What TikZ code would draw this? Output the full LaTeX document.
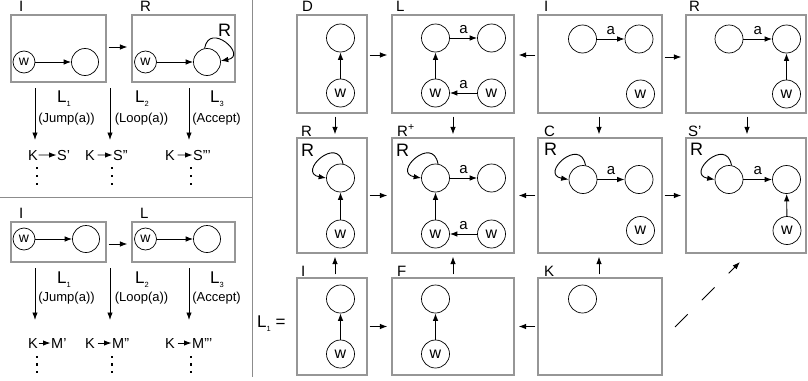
\documentclass[tikz,border=0pt]{standalone}
\usepackage{fontspec}
\setmainfont{Liberation Sans}
\usetikzlibrary{arrows.meta}
\definecolor{boxgray}{RGB}{150,150,150}
\definecolor{sepgray}{RGB}{140,140,140}
\newcommand{\mysub}[1]{\raisebox{-4pt}{\fontsize{7.5}{7.5}\selectfont #1}}
\newcommand{\fs}[1]{\fontsize{#1}{#1}\selectfont}
\begin{document}
\begin{tikzpicture}[x=1pt,y=1pt,
  arr/.style={-{Latex[length=7.5pt,width=5.5pt]}, line width=0.9pt},
  sepline/.style={draw=sepgray, line width=1pt},
  frame/.style={draw=boxgray, line width=1.2pt, inner sep=0pt, rectangle},
  ec/.style={circle, draw, line width=0.7pt, minimum size=28pt, inner sep=0pt},
  wc/.style={ec, font=\fs{16}},
  sec/.style={ec, minimum size=27pt},
  swc/.style={ec, minimum size=22pt, font=\fs{14}},
  lab/.style={anchor=base west, font=\fs{15}, inner sep=0pt},
  llab/.style={anchor=base west, font=\fs{17}, inner sep=0pt},
  plab/.style={anchor=base, font=\fs{13}, inner sep=0pt},
  klab/.style={anchor=base west, font=\fs{14.5}, inner sep=0.5pt},
  rlab/.style={anchor=base west, font=\fs{18}, inner sep=0pt},
  alab/.style={font=\fs{15}, inner sep=1pt},
  dotm/.style={fill, inner sep=0pt, minimum size=2.6pt, rectangle},
  gap/.style={shorten <=2pt, shorten >=4pt}
]
\useasboundingbox (0,0) rectangle (808,-380);

% ---------------- separators
\coordinate (vs1) at (252.5,0); \coordinate (vs2) at (252.5,-377);
\draw[sepline] (vs1) -- (vs2);
\coordinate (hs1) at (0,-197); \coordinate (hs2) at (252.5,-197);
\draw[sepline] (hs1) -- (hs2);

% ---------------- top-left panel
\node[frame, minimum width=95pt, minimum height=67pt] (ta) at (58.5,-48.5) {};
\node[frame, minimum width=103pt, minimum height=67pt] (tb) at (183.5,-48.5) {};
\node[lab] (tlA) at (19,-12) {I};
\node[lab] (tlB) at (140,-12) {R};
\node[swc] (tw1) at (24,-62) {w};
\node[sec] (te1) at (85,-62) {};
\draw[arr] (tw1) -- (te1);
\node[swc] (tw2) at (145.5,-62) {w};
\node[sec] (te2) at (207,-62) {};
\draw[arr] (tw2) -- (te2);
\draw[arr] (te2.100) .. controls +(80:28) and +(10:28) .. (te2.5);
\node[rlab] (tR) at (218,-36) {R};
\draw[arr, gap] ([yshift=1.5pt]ta.east) -- ([yshift=1.5pt]tb.west);

\coordinate (td1s) at (35,-88);  \coordinate (td1e) at (35,-140);
\coordinate (td2s) at (110,-88); \coordinate (td2e) at (110,-140);
\coordinate (td3s) at (189,-88); \coordinate (td3e) at (189,-140);
\draw[arr] (td1s) -- (td1e);
\draw[arr] (td2s) -- (td2e);
\draw[arr] (td3s) -- (td3e);
\node[llab] (tL1) at (57,-102) {L\mysub{1}};
\node[llab] (tL2) at (135,-102) {L\mysub{2}};
\node[llab] (tL3) at (210,-102) {L\mysub{3}};
\node[plab] (tP1) at (66.5,-122) {(Jump(a))};
\node[plab] (tP2) at (141.5,-122) {(Loop(a))};
\node[plab] (tP3) at (216.5,-122) {(Accept)};

\node[klab] (tK1) at (27.5,-160) {K};
\node[klab] (tS1) at (56.5,-160) {S'};
\draw[arr] (tK1) -- (tS1);
\node[klab] (tK2) at (84.5,-160) {K};
\node[klab] (tS2) at (112.5,-160) {S''};
\draw[arr, shorten <=2pt] (tK2) -- (tS2);
\node[klab] (tK3) at (164.5,-160) {K};
\node[klab] (tS3) at (192.5,-160) {S'''};
\draw[arr, shorten <=2pt] (tK3) -- (tS3);
\foreach \x/\n in {37/a,112/b,191/c}{
  \node[dotm] (tdot\n1) at (\x,-168) {};
  \node[dotm] (tdot\n2) at (\x,-176) {};
  \node[dotm] (tdot\n3) at (\x,-184) {};
}

% ---------------- bottom-left panel
\node[frame, minimum width=95pt, minimum height=40pt] (ba) at (58.5,-242) {};
\node[frame, minimum width=103pt, minimum height=40pt] (bb) at (183.5,-242) {};
\node[lab] (blA) at (19,-218) {I};
\node[lab] (blB) at (140,-218) {L};
\node[swc] (bw1) at (24,-239) {w};
\node[sec] (be1) at (86,-239) {};
\draw[arr] (bw1) -- (be1);
\node[swc] (bw2) at (145.5,-239) {w};
\node[sec] (be2) at (207,-239) {};
\draw[arr] (bw2) -- (be2);
\draw[arr, gap] ([yshift=-2pt]ba.east) -- ([yshift=-2pt]bb.west);

\coordinate (bd1s) at (35,-268);  \coordinate (bd1e) at (35,-320);
\coordinate (bd2s) at (110,-268); \coordinate (bd2e) at (110,-320);
\coordinate (bd3s) at (189,-268); \coordinate (bd3e) at (189,-320);
\draw[arr] (bd1s) -- (bd1e);
\draw[arr] (bd2s) -- (bd2e);
\draw[arr] (bd3s) -- (bd3e);
\node[llab] (bL1) at (57,-283) {L\mysub{1}};
\node[llab] (bL2) at (135,-283) {L\mysub{2}};
\node[llab] (bL3) at (210,-283) {L\mysub{3}};
\node[plab] (bP1) at (66.5,-301) {(Jump(a))};
\node[plab] (bP2) at (141.5,-301) {(Loop(a))};
\node[plab] (bP3) at (216.5,-301) {(Accept)};

\node[klab] (bK1) at (27.5,-348) {K};
\node[klab] (bM1) at (50.5,-348) {M'};
\draw[arr] (bK1) -- (bM1);
\node[klab] (bK2) at (84.5,-348) {K};
\node[klab] (bM2) at (111.5,-348) {M''};
\draw[arr, shorten <=2pt] (bK2) -- (bM2);
\node[klab] (bK3) at (164.5,-348) {K};
\node[klab] (bM3) at (191.5,-348) {M'''};
\draw[arr, shorten <=2pt] (bK3) -- (bM3);
\foreach \x/\n in {37/a,112/b,191/c}{
  \node[dotm] (bdot\n1) at (\x,-357) {};
  \node[dotm] (bdot\n2) at (\x,-364.5) {};
  \node[dotm] (bdot\n3) at (\x,-372) {};
}

% ---------------- L1 =
\node[llab] (Leq) at (257,-327) {L\mysub{1} =};

% ---------------- right panel boxes
\node[frame, minimum width=70pt,  minimum height=98pt]  (b11) at (332,-64) {};
\node[frame, minimum width=122pt, minimum height=98pt]  (b12) at (453,-64) {};
\node[frame, minimum width=124pt, minimum height=98pt]  (b13) at (600,-64) {};
\node[frame, minimum width=120pt, minimum height=98pt]  (b14) at (746,-64) {};
\node[frame, minimum width=70pt,  minimum height=115pt] (b21) at (332,-195.5) {};
\node[frame, minimum width=122pt, minimum height=115pt] (b22) at (453,-195.5) {};
\node[frame, minimum width=124pt, minimum height=115pt] (b23) at (600,-195.5) {};
\node[frame, minimum width=120pt, minimum height=115pt] (b24) at (746,-195.5) {};
\node[frame, minimum width=70pt,  minimum height=97pt]  (b31) at (332,-326.5) {};
\node[frame, minimum width=122pt, minimum height=97pt]  (b32) at (453,-326.5) {};
\node[frame, minimum width=124pt, minimum height=97pt]  (b33) at (600,-326.5) {};

% box labels
\node[lab] (l11) at (302,-11.5) {D};
\node[lab] (l12) at (396,-11.5) {L};
\node[lab] (l13) at (544,-11.5) {I};
\node[lab] (l14) at (689,-11.5) {R};
\node[lab] (l21) at (301,-136) {R};
\node[lab] (l22) at (397,-136) {R\textsuperscript{+}};
\node[lab] (l23) at (544,-136) {C};
\node[lab] (l24) at (688,-136) {S'};
\node[lab] (l31) at (301,-276) {I};
\node[lab] (l32) at (397,-276) {F};
\node[lab] (l33) at (544,-276) {K};

% arrows between boxes
\draw[arr, gap] ([yshift=9pt]b11.east) -- ([yshift=9pt]b12.west);
\draw[arr, gap] ([yshift=9pt]b13.west) -- ([yshift=9pt]b12.east);
\draw[arr, gap] ([yshift=7pt]b13.east) -- ([yshift=7pt]b14.west);
\draw[arr, gap] (b21.east) -- (b22.west);
\draw[arr, gap] (b23.west) -- (b22.east);
\draw[arr, gap] (b23.east) -- (b24.west);
\draw[arr, gap] (b31.east) -- (b32.west);
\draw[arr, gap] (b33.west) -- (b32.east);
\draw[arr, shorten <=3pt, shorten >=3pt] ([xshift=3pt]b11.south) -- ([xshift=3pt]b21.north);
\draw[arr, shorten <=3pt, shorten >=3pt] (b12.south) -- (b22.north);
\draw[arr, shorten <=3pt, shorten >=3pt] ([xshift=-1pt]b13.south) -- ([xshift=-1pt]b23.north);
\draw[arr, shorten <=3pt, shorten >=3pt] ([xshift=1pt]b14.south) -- ([xshift=1pt]b24.north);
\draw[arr, shorten <=3pt, shorten >=3pt] ([xshift=3pt]b31.north) -- ([xshift=3pt]b21.south);
\draw[arr, shorten <=3pt, shorten >=3pt] (b32.north) -- (b22.south);
\draw[arr, shorten <=3pt, shorten >=3pt] ([xshift=-1pt]b33.north) -- ([xshift=-1pt]b23.south);
\coordinate (dd1) at (675,-327); \coordinate (dd2) at (740,-262);
\draw[arr, dash pattern=on 18pt off 20pt] (dd1) -- (dd2);

% ---- row 1 contents
\node[ec] (e11) at (340.5,-38) {};
\node[wc] (w11) at (340.5,-93) {w};
\draw[arr] (w11) -- (e11);

\node[ec] (e12a) at (435.5,-38) {};
\node[ec] (e12b) at (491.5,-38) {};
\node[wc] (w12a) at (435.5,-93) {w};
\node[wc] (w12b) at (491.5,-93) {w};
\draw[arr] (e12a) -- node[alab, above=3pt] (a12a) {a} (e12b);
\draw[arr] (w12a) -- (e12a);
\draw[arr] (w12b) -- node[alab, above=3pt] (a12b) {a} (w12a);

\node[ec] (e13a) at (582.5,-39) {};
\node[ec] (e13b) at (639,-39) {};
\node[wc] (w13) at (640.5,-94) {w};
\draw[arr] (e13a) -- node[alab, above=3pt] (a13) {a} (e13b);

\node[ec] (e14a) at (729,-39) {};
\node[ec] (e14b) at (786.5,-39) {};
\node[wc] (w14) at (786.5,-94) {w};
\draw[arr] (e14a) -- node[alab, above=3pt] (a14) {a} (e14b);
\draw[arr] (w14) -- (e14b);

% ---- row 2 contents
\node[rlab] (R21) at (301,-156) {R};
\node[ec] (e21) at (340.5,-178) {};
\node[wc] (w21) at (340.5,-234) {w};
\draw[arr] (w21) -- (e21);
\draw[arr] (e21.80) .. controls +(100:30) and +(170:30) .. (e21.180);

\node[rlab] (R22) at (396,-156) {R};
\node[ec] (e22a) at (435.5,-178) {};
\node[ec] (e22b) at (491.5,-178) {};
\node[wc] (w22a) at (435.5,-234) {w};
\node[wc] (w22b) at (491.5,-234) {w};
\draw[arr] (e22a.80) .. controls +(100:30) and +(170:30) .. (e22a.180);
\draw[arr] (e22a) -- node[alab, above=3pt] (a22a) {a} (e22b);
\draw[arr] (w22a) -- (e22a);
\draw[arr] (w22b) -- node[alab, above=3pt] (a22b) {a} (w22a);

\node[rlab] (R23) at (544,-155) {R};
\node[ec] (e23a) at (583,-179.5) {};
\node[ec] (e23b) at (639,-179.5) {};
\node[wc] (w23) at (640.5,-230.5) {w};
\draw[arr] (e23a.80) .. controls +(100:30) and +(170:30) .. (e23a.180);
\draw[arr] (e23a) -- node[alab, above=3pt] (a23) {a} (e23b);

\node[rlab] (R24) at (690,-155) {R};
\node[ec] (e24a) at (729,-179.5) {};
\node[ec] (e24b) at (786.5,-179.5) {};
\node[wc] (w24) at (787,-230.5) {w};
\draw[arr] (e24a.80) .. controls +(100:30) and +(170:30) .. (e24a.180);
\draw[arr] (e24a) -- node[alab, above=3pt] (a24) {a} (e24b);
\draw[arr] (w24) -- (e24b);

% ---- row 3 contents
\node[ec] (e31) at (340.5,-299) {};
\node[wc] (w31) at (340.5,-354) {w};
\draw[arr] (w31) -- (e31);
\node[ec] (e32) at (435.5,-299) {};
\node[wc] (w32) at (435.5,-354) {w};
\draw[arr] (w32) -- (e32);
\node[ec] (e33) at (582.5,-299) {};
\end{tikzpicture}
\end{document}
